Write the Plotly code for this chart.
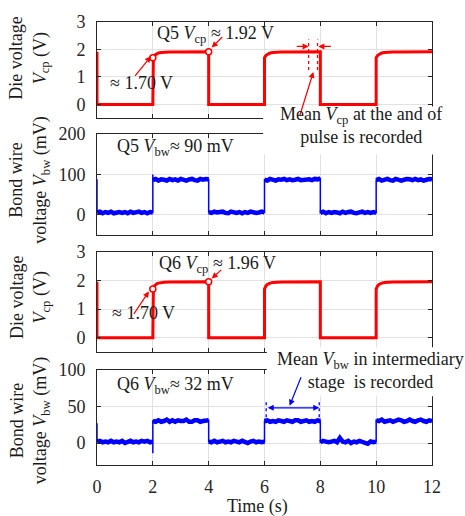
import plotly.graph_objects as go

# ---------------- data ----------------
# die voltage rise shape after each pulse start (offset in s)
rise_dt = [0, 0.02, 0.05, 0.1, 0.15, 0.2, 0.3, 0.4, 0.6, 0.8, 1.0, 1.3, 1.6, 2.0]
q5_vcp_rise = [1.70, 1.74, 1.78, 1.82, 1.85, 1.87, 1.89, 1.90, 1.905, 1.91, 1.913, 1.916, 1.918, 1.92]
q6_vcp_rise = [1.70, 1.76, 1.81, 1.86, 1.89, 1.91, 1.93, 1.94, 1.945, 1.95, 1.953, 1.956, 1.958, 1.96]
pulse_starts = [2, 6, 10]

# bond wire voltage (mV), 21 samples per 2-s segment
seg_dt = [0.0, 0.1, 0.2, 0.3, 0.4, 0.5, 0.6, 0.7, 0.8, 0.9, 1.0,
          1.1, 1.2, 1.3, 1.4, 1.5, 1.6, 1.7, 1.8, 1.9, 2.0]
seg_starts = [0, 2, 4, 6, 8, 10]
q5_vbw_start = 88
q5_vbw_spikes = {2: 100}
q5_vbw_segs = [
    [6, 8, 4, 7, 5, 8, 4, 6, 7, 5, 7, 4, 8, 5, 6, 8, 5, 7, 4, 7, 6],
    [86, 89, 85, 88, 87, 85, 89, 86, 88, 85, 89, 87, 85, 88, 89, 86, 85, 89, 87, 89, 88],
    [7, 5, 8, 6, 7, 8, 5, 4, 8, 7, 5, 7, 4, 7, 5, 8, 6, 5, 6, 8, 6],
    [87, 85, 89, 86, 85, 88, 87, 89, 86, 88, 86, 87, 89, 86, 87, 89, 88, 86, 89, 88, 90],
    [5, 8, 4, 7, 5, 7, 6, 4, 8, 5, 7, 8, 5, 4, 6, 8, 5, 7, 5, 7, 5],
    [86, 89, 85, 88, 89, 86, 85, 89, 87, 85, 87, 89, 88, 86, 89, 86, 88, 85, 87, 89, 88],
]
q6_vbw_start = 27
q6_vbw_spikes = {2: -14}
q6_vbw_segs = [
    [2, 3, 1, 2, 1, 3, 1, 2, 1, 3, 0, 2, 3, 1, 2, 1, 3, 2, 3, 1, 2],
    [30, 29, 31, 29, 30, 32, 29, 31, 29, 31, 30, 30, 32, 29, 29, 31, 31, 29, 30, 30, 31],
    [2, 1, 3, 1, 2, 3, 1, 2, 1, 3, 2, 1, 3, 2, 0, 2, 3, 1, 2, 1, 2],
    [30, 31, 29, 30, 29, 31, 30, 29, 31, 30, 29, 31, 31, 29, 30, 31, 29, 30, 29, 31, 30],
    [1, 3, 2, 1, 2, 3, 1, 7, 2, 1, 3, 0, 2, 1, 3, 2, 1, -1, 2, 1, 2],
    [31, 30, 32, 29, 30, 31, 29, 30, 32, 31, 29, 30, 32, 30, 29, 31, 32, 30, 29, 31, 30],
]

# marked points
q5_marks_t = [2, 4]
q5_marks_v = [1.70, 1.92]
q6_marks_t = [2, 4]
q6_marks_v = [1.70, 1.96]

x_ticks = [0, 2, 4, 6, 8, 10, 12]

# ---------------- helpers ----------------
def red_series(rise):
    t, v = [0.0, 0.0], [rise[-1], 0.0]
    for s in pulse_starts:
        t.append(s); v.append(0.0)
        for dt, val in zip(rise_dt, rise):
            t.append(s + dt); v.append(val)
        if s + 2 < 12:
            t.append(s + 2); v.append(0.0)
    return t, v


def blue_series(start_val, segs, spikes):
    t, v = [0.0], [start_val]
    for s, vals in zip(seg_starts, segs):
        if s in spikes:
            t.append(s); v.append(spikes[s])
        for dt, val in zip(seg_dt, vals):
            t.append(s + dt); v.append(val)
    return t, v


def blue_band(segs):
    t, v = [], []
    for s, vals in zip(seg_starts, segs):
        for dt, val in zip(seg_dt, vals):
            t.append(s + dt); v.append(val)
        t.append(None); v.append(None)
    return t, v


FONT = "Liberation Serif"
RED = "#ff0000"
BLUE = "#0000ff"
AX = "#262626"

fig = go.Figure()

t1, v1 = red_series(q5_vcp_rise)
t2, v2 = blue_series(q5_vbw_start, q5_vbw_segs, q5_vbw_spikes)
b2t, b2v = blue_band(q5_vbw_segs)
t3, v3 = red_series(q6_vcp_rise)
t4, v4 = blue_series(q6_vbw_start, q6_vbw_segs, q6_vbw_spikes)
b4t, b4v = blue_band(q6_vbw_segs)

fig.add_trace(go.Scatter(x=t1, y=v1, mode="lines", line=dict(color=RED, width=3), xaxis="x", yaxis="y"))
fig.add_trace(go.Scatter(x=q5_marks_t, y=q5_marks_v, mode="markers",
                         marker=dict(symbol="circle", size=6, color="white", line=dict(color=RED, width=1.5)),
                         xaxis="x", yaxis="y"))
fig.add_trace(go.Scatter(x=t2, y=v2, mode="lines", line=dict(color=BLUE, width=1.5), xaxis="x2", yaxis="y2"))
fig.add_trace(go.Scatter(x=b2t, y=b2v, mode="lines", line=dict(color=BLUE, width=4.5),
                         connectgaps=False, xaxis="x2", yaxis="y2"))
fig.add_trace(go.Scatter(x=t3, y=v3, mode="lines", line=dict(color=RED, width=3), xaxis="x3", yaxis="y3"))
fig.add_trace(go.Scatter(x=q6_marks_t, y=q6_marks_v, mode="markers",
                         marker=dict(symbol="circle", size=6, color="white", line=dict(color=RED, width=1.5)),
                         xaxis="x3", yaxis="y3"))
fig.add_trace(go.Scatter(x=t4, y=v4, mode="lines", line=dict(color=BLUE, width=1.5), xaxis="x4", yaxis="y4"))
fig.add_trace(go.Scatter(x=b4t, y=b4v, mode="lines", line=dict(color=BLUE, width=4.5),
                         connectgaps=False, xaxis="x4", yaxis="y4"))

common = dict(showline=True, mirror="ticks", linecolor=AX, linewidth=1, ticks="inside", ticklen=4,
              tickcolor=AX, showgrid=True, gridcolor="#e2e2e2", gridwidth=1, zeroline=False,
              tickfont=dict(family=FONT, size=18, color=AX))

domains = [[0.783, 1.0], [0.519, 0.747], [0.255, 0.481], [0.0, 0.215]]
yranges = [[-0.5, 3], [-50, 200], [-0.5, 3], [-30, 100]]
yticks = [[0, 1, 2, 3], [0, 100, 200], [0, 1, 2, 3], [0, 50, 100]]

lay = {}
for i in range(4):
    sx = "" if i == 0 else str(i + 1)
    lay["xaxis" + sx] = dict(common, domain=[0, 1], range=[0, 12], tickvals=x_ticks,
                             anchor="y" + sx, showticklabels=(i == 3), ticklabelstandoff=5)
    lay["yaxis" + sx] = dict(common, domain=domains[i], range=yranges[i], tickvals=yticks[i],
                             anchor="x" + sx, ticklabelstandoff=7)

ann = []
def text(x, y, s, xref="x", yref="y", xanchor="left", size=18, yanchor="middle"):
    ann.append(dict(x=x, y=y, xref=xref, yref=yref, text=s, showarrow=False, xanchor=xanchor,
                    yanchor=yanchor, font=dict(family=FONT, size=size, color="#1a1a1a")))

def arrow(x, y, ax, ay, xref, yref, color, data_tail=False, side="end", width=1.2):
    d = dict(x=x, y=y, ax=ax, ay=ay, xref=xref, yref=yref, text="", showarrow=True,
             arrowhead=2, arrowsize=1, arrowwidth=width, arrowcolor=color, arrowside=side)
    if data_tail:
        d["axref"] = xref
        d["ayref"] = yref
    ann.append(d)

# y-axis titles
for yc, s in [(0.918, "Die voltage<br><i>V</i><sub>cp</sub> (V)"),
              (0.643, "Bond wire<br>voltage <i>V</i><sub>bw</sub> (mV)"),
              (0.378, "Die voltage<br><i>V</i><sub>cp</sub> (V)"),
              (0.100, "Bond wire<br>voltage <i>V</i><sub>bw</sub> (mV)")]:
    ann.append(dict(x=-0.2015, y=yc, xref="paper", yref="paper", text=s, showarrow=False,
                    textangle=-90, xanchor="center", yanchor="middle",
                    font=dict(family=FONT, size=18, color="#1a1a1a")))

# x title
text(0.478, -0.093, "Time (s)", xref="paper", yref="paper", xanchor="center")

# panel 1
text(2.07, 2.54, "Q5 <i>V</i><sub>cp</sub> ≈ 1.92 V")
text(0.39, 0.79, "≈ 1.70 V")
arrow(1.93, 1.75, -17, 21, "x", "y", RED)
arrow(4.11, 2.07, 12, -12, "x", "y", RED)
arrow(7.58, 2.11, 7.1, 2.11, "x", "y", RED, data_tail=True)
arrow(7.93, 2.11, 8.43, 2.11, "x", "y", RED, data_tail=True)
arrow(7.75, 1.18, -14, 45, "x", "y", RED)

# panel 2
text(0.64, 168, "Q5 <i>V</i><sub>bw</sub>≈ 90 mV", xref="x2", yref="y2")

# panel 3
text(2.14, 2.55, "Q6 <i>V</i><sub>cp</sub> ≈ 1.96 V", xref="x3", yref="y3")
text(0.46, 0.86, "≈ 1.70 V", xref="x3", yref="y3")
arrow(1.86, 1.62, -16, 24, "x3", "y3", RED)
arrow(4.11, 2.07, 11, -10, "x3", "y3", RED)

# panel 4
text(0.64, 78, "Q6 <i>V</i><sub>bw</sub>≈ 32 mV", xref="x4", yref="y4")
arrow(7.96, 48, 6.06, 48, "x4", "y4", BLUE, data_tail=True, side="end+start")
arrow(6.9, 51, 12, -30, "x4", "y4", BLUE)

shapes = [
    dict(type="rect", xref="paper", yref="paper", x0=0.496, x1=1.1, y0=0.7007, y1=0.809,
         fillcolor="white", line=dict(width=0), layer="above"),
    dict(type="rect", xref="paper", yref="paper", x0=0.507, x1=1.1, y0=0.155, y1=0.266,
         fillcolor="white", line=dict(width=0), layer="above"),
    dict(type="line", xref="x", yref="y", x0=7.58, x1=7.58, y0=1.25, y1=2.36,
         line=dict(color=RED, width=1.3, dash="dot"), layer="above"),
    dict(type="line", xref="x", yref="y", x0=7.9, x1=7.9, y0=1.25, y1=2.36,
         line=dict(color=RED, width=1.3, dash="dot"), layer="above"),
    dict(type="line", xref="x4", yref="y4", x0=6.06, x1=6.06, y0=27, y1=59,
         line=dict(color=BLUE, width=1.3, dash="dot"), layer="above"),
    dict(type="line", xref="x4", yref="y4", x0=7.96, x1=7.96, y0=27, y1=59,
         line=dict(color=BLUE, width=1.3, dash="dot"), layer="above"),
]

# texts over white boxes
text(0.787, 0.767, "Mean <i>V</i><sub>cp</sub> at the and of<br>pulse is recorded",
     xref="paper", yref="paper", xanchor="center")
text(0.815, 0.213, "Mean <i>V</i><sub>bw</sub> in intermediary<br>stage  is recorded",
     xref="paper", yref="paper", xanchor="center")

fig.update_layout(width=465, height=516, autosize=False, showlegend=False,
                  margin=dict(l=97, r=33, t=14, b=51),
                  paper_bgcolor="white", plot_bgcolor="white",
                  font=dict(family=FONT, size=18, color="#1a1a1a"),
                  annotations=ann, shapes=shapes, **lay)

fig.write_html("out.html")
